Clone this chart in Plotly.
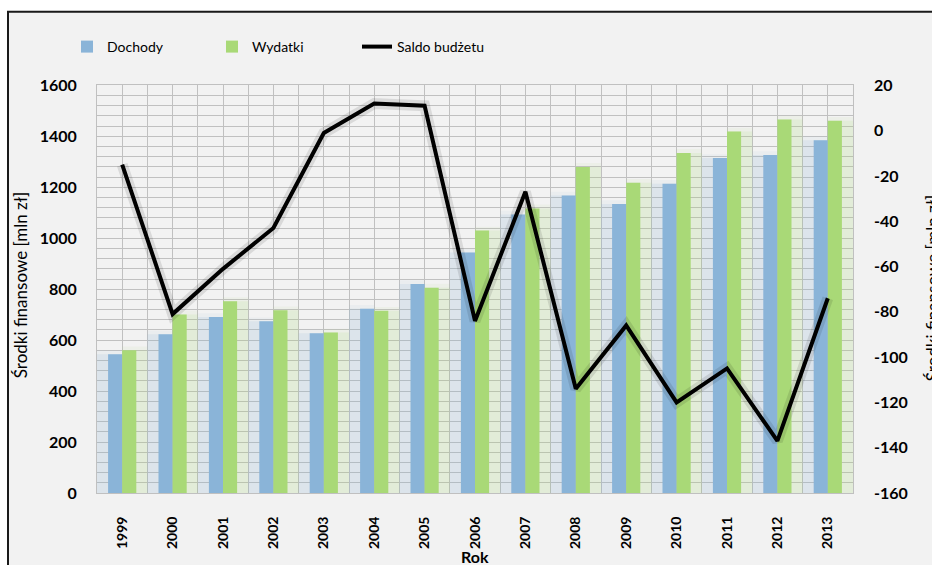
import plotly.graph_objects as go

years = [1999, 2000, 2001, 2002, 2003, 2004, 2005, 2006, 2007, 2008, 2009, 2010, 2011, 2012, 2013]
dochody = [545, 623, 691, 674, 627, 723, 820, 944, 1093, 1168, 1134, 1214, 1315, 1327, 1385]
wydatki = [560, 701, 753, 717, 630, 715, 806, 1030, 1117, 1280, 1218, 1335, 1419, 1466, 1461]
saldo = [-15, -81, -61, -43, -1, 12, 11, -84, -27, -114, -86, -120, -105, -137, -74]
year_labels = [str(y) for y in years]
left_ticks = [0, 200, 400, 600, 800, 1000, 1200, 1400, 1600]
right_ticks = [-160, -140, -120, -100, -80, -60, -40, -20, 0, 20]
right_labels = [str(v) for v in right_ticks]

BLUE = "#8ab4d8"
GREEN = "#a9d977"
FONT = "Lato, 'Open Sans', sans-serif"

# plot area in page pixels (page margin removed below)
L, R, T, B = 97, 853, 83, 493
W, H = R - L, B - T


def px(x):
    return (x - L) / W


def py(y):
    return (B - y) / H


fig = go.Figure()

# soft glow behind the bars
fig.add_trace(go.Bar(x=years, y=[v + 15 for v in dochody], offset=-0.5, width=0.5,
                     marker=dict(color="rgba(138,180,216,0.07)", line_width=0),
                     showlegend=False, hoverinfo="skip"))
fig.add_trace(go.Bar(x=years, y=dochody, offset=-0.5, width=0.5,
                     marker=dict(color="rgba(138,180,216,0.14)", line_width=0),
                     showlegend=False, hoverinfo="skip"))
fig.add_trace(go.Bar(x=years, y=[v + 15 for v in wydatki], offset=0, width=0.5,
                     marker=dict(color="rgba(169,217,119,0.07)", line_width=0),
                     showlegend=False, hoverinfo="skip"))
fig.add_trace(go.Bar(x=years, y=wydatki, offset=0, width=0.5,
                     marker=dict(color="rgba(169,217,119,0.14)", line_width=0),
                     showlegend=False, hoverinfo="skip"))

fig.add_trace(go.Bar(x=years, y=dochody, name="Dochody", offset=-0.28, width=0.28,
                     marker=dict(color=BLUE, line_width=0)))
fig.add_trace(go.Bar(x=years, y=wydatki, name="Wydatki", offset=0, width=0.28,
                     marker=dict(color=GREEN, line_width=0)))

# line shadow + line
fig.add_trace(go.Scatter(x=years, y=saldo, yaxis="y2", mode="lines",
                         line=dict(color="rgba(0,0,0,0.10)", width=11),
                         showlegend=False, hoverinfo="skip"))
fig.add_trace(go.Scatter(x=years, y=saldo, yaxis="y2", mode="lines", name="Saldo budżetu",
                         line=dict(color="black", width=4)))

grid = "#c0c0c0"
fig.update_layout(
    width=932, height=565,
    margin=dict(l=L, r=932 - R, t=T, b=565 - B),
    paper_bgcolor="white",
    plot_bgcolor="#f2f2f2",
    barmode="overlay",
    font=dict(family=FONT, color="black"),
    showlegend=True,
    legend=dict(orientation="h", xref="container", yref="container",
                x=67 / 932, y=1 - 47 / 565, xanchor="left", yanchor="middle",
                entrywidth=100, entrywidthmode="pixels",
                font=dict(size=14, family=FONT), bgcolor="rgba(0,0,0,0)",
                traceorder="normal"),
    xaxis=dict(range=[1998.5, 2013.5], tickmode="array", tickvals=years, ticktext=year_labels,
               tickangle=-90, tickfont=dict(size=14, family=FONT, weight="bold"),
               showgrid=True, gridcolor=grid, gridwidth=1,
               minor=dict(tick0=1998.5, dtick=0.5, showgrid=True, gridcolor=grid, gridwidth=1),
               showline=True, linecolor=grid, mirror=True, zeroline=False,
               ticks="", ticklabelstandoff=17),
    yaxis=dict(range=[0, 1600], tickmode="array", tickvals=left_ticks,
               tickfont=dict(size=16, family=FONT, weight="bold"),
               showgrid=True, gridcolor=grid, gridwidth=1,
               minor=dict(tick0=0, dtick=40, showgrid=True, gridcolor=grid, gridwidth=1),
               showline=True, linecolor=grid, mirror=True, zeroline=False,
               ticks="", ticklabelstandoff=16),
    yaxis2=dict(range=[-160, 20], tickmode="array", tickvals=right_ticks, ticktext=right_labels,
                overlaying="y", side="right",
                tickfont=dict(size=16, family=FONT, weight="bold"),
                showgrid=False, zeroline=False, showline=False,
                ticks="", ticklabelstandoff=20),
)

# frame of the chart area (Excel-style)
fig.add_shape(type="rect", xref="paper", yref="paper", layer="below",
              x0=px(8), x1=px(980), y0=py(620), y1=py(9),
              line=dict(color="#1a1a1a", width=2), fillcolor="#f2f2f2")

fig.add_annotation(text="Środki finansowe [mln zł]", xref="paper", yref="paper",
                   x=px(20), y=py(284), textangle=-90, showarrow=False,
                   font=dict(size=17, family=FONT), xanchor="center", yanchor="middle")
fig.add_annotation(text="Środki finansowe [mln zł]", xref="paper", yref="paper",
                   x=px(932), y=py(287), textangle=-90, showarrow=False,
                   font=dict(size=17, family=FONT), xanchor="center", yanchor="middle")
fig.add_annotation(text="<b>Rok</b>", xref="paper", yref="paper",
                   x=0.5, y=py(557), showarrow=False,
                   font=dict(size=16, family=FONT), xanchor="center", yanchor="middle")

fig.write_html(
    "out.html",
    config={"displayModeBar": False},
    post_script="document.body.style.margin='0';"
                "document.documentElement.style.overflow='hidden';"
                "document.body.style.overflow='hidden';",
)
